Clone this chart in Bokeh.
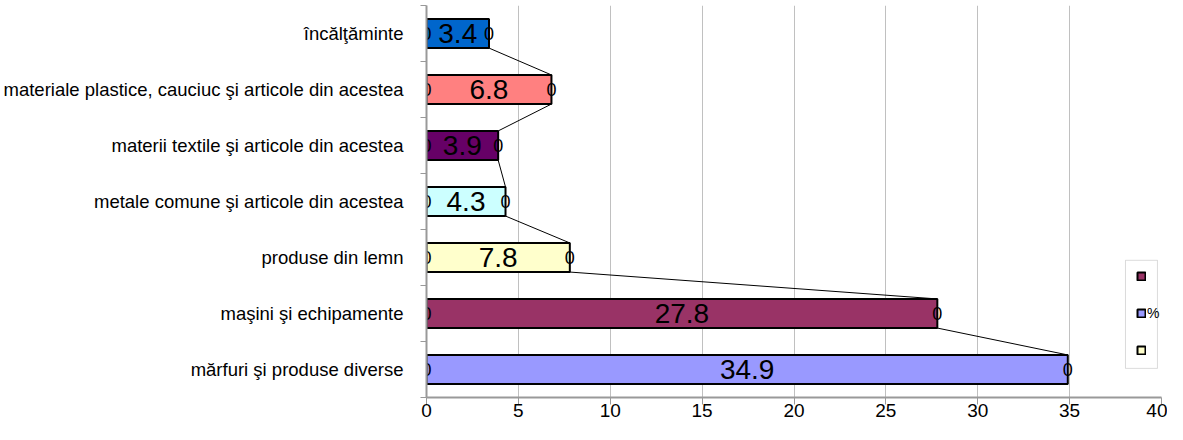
from bokeh.plotting import figure
from bokeh.models import Range1d, FixedTicker, Legend, LegendItem, ColumnDataSource, BoxAnnotation
from bokeh.core.properties import value
from bokeh.embed import file_html
from bokeh.resources import INLINE

# Data (bottom to top)
categories = [
    "mărfuri şi produse diverse",
    "maşini şi echipamente",
    "produse din lemn",
    "metale comune şi articole din acestea",
    "materii textile şi articole din acestea",
    "materiale plastice, cauciuc şi articole din acestea",
    "încălţăminte",
]
values = [34.9, 27.8, 7.8, 4.3, 3.9, 6.8, 3.4]
colors = ["#9999FF", "#993366", "#FFFFCC", "#CCFFFF", "#660066", "#FF8080", "#0066CC"]
x_ticks = [0, 5, 10, 15, 20, 25, 30, 35, 40]
legend_labels = ["", "%", ""]
legend_index = [1, 0, 2]

FONT = "Liberation Sans"
BAR_H = 0.52

n = len(categories)
ys = [i + 0.5 for i in range(n)]

p = figure(width=1167, height=424, output_backend="svg", toolbar_location=None,
           x_range=Range1d(0, 40), y_range=Range1d(0, n),
           min_border_left=425, min_border_right=6, min_border_top=5, min_border_bottom=27)
p.outline_line_color = None
p.background_fill_color = "white"
p.border_fill_color = "white"

src = ColumnDataSource(dict(y=ys, right=values, color=colors,
                            mid=[v / 2 for v in values],
                            lbl=[f"{v:.1f}" for v in values],
                            zero=[0] * n, zl=["0"] * n))

# series lines connecting bar ends
lx, ly = [], []
for i in range(n - 1, 0, -1):
    lx.append([values[i], values[i - 1]])
    ly.append([ys[i] - BAR_H / 2, ys[i - 1] + BAR_H / 2])
p.multi_line(xs=lx, ys=ly, line_color="black", line_width=1)

bars = p.hbar(y="y", left=0, right="right", height=BAR_H, fill_color="color",
              line_color="black", line_width=2, source=src)

p.text(x="mid", y="y", text="lbl", source=src, text_align="center", text_baseline="middle",
       text_font=value(FONT), text_font_size="28px", text_color="black")
p.text(x="zero", y="y", text="zl", source=src, text_align="center", text_baseline="middle",
       text_font=value(FONT), text_font_size="18px", text_color="black")
p.text(x="right", y="y", text="zl", source=src, text_align="center", text_baseline="middle",
       text_font=value(FONT), text_font_size="18px", text_color="black")

# axes
p.xaxis.ticker = FixedTicker(ticks=x_ticks)
p.xgrid.ticker = FixedTicker(ticks=x_ticks)
p.xgrid.grid_line_color = "#C0C0C0"
p.ygrid.visible = False
p.xaxis.axis_line_color = "#999999"
p.xaxis.axis_line_width = 2
p.xaxis.major_tick_line_color = "#999999"
p.xaxis.major_tick_out = 7
p.xaxis.major_tick_in = 0
p.xaxis.minor_tick_line_color = None
p.xaxis.major_label_text_font = FONT
p.xaxis.major_label_text_font_size = "19px"
p.xaxis.major_label_text_color = "black"
p.xaxis.major_label_standoff = -1

p.yaxis.ticker = FixedTicker(ticks=ys, minor_ticks=list(range(n + 1)))
p.yaxis.major_label_overrides = {y: c for y, c in zip(ys, categories)}
p.yaxis.axis_line_color = "#999999"
p.yaxis.axis_line_width = 2
p.yaxis.major_tick_out = 0
p.yaxis.major_tick_in = 0
p.yaxis.minor_tick_line_color = "#999999"
p.yaxis.minor_tick_out = 6
p.yaxis.minor_tick_in = 0
p.yaxis.major_label_text_font = FONT
p.yaxis.major_label_text_font_size = "18.5px"
p.yaxis.major_label_text_color = "black"
p.yaxis.major_label_standoff = 17

# legend box
p.add_layout(BoxAnnotation(left=38.04, right=39.78, bottom=0.52, top=2.45,
                           fill_color="white", fill_alpha=1, line_color="#888888", line_width=1))

items = [LegendItem(label=value(lab if lab else " "), renderers=[bars], index=idx)
         for lab, idx in zip(legend_labels, legend_index)]
leg = Legend(items=items, location=(710, 42), padding=0, margin=0, spacing=24,
             glyph_width=10, glyph_height=10, label_height=10, label_standoff=1,
             label_text_font=FONT, label_text_font_size="14px", label_text_color="black",
             border_line_color=None, background_fill_alpha=0)
p.add_layout(leg, "center")

open("out.html", "w").write(file_html(p, INLINE))
